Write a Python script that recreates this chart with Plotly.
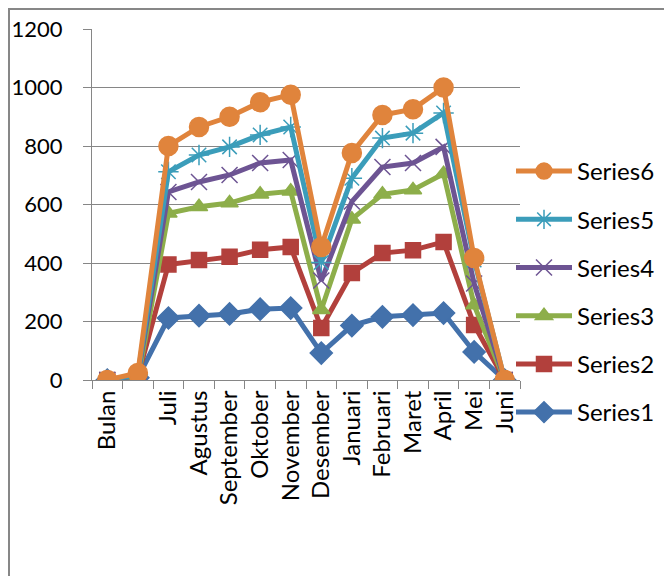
import plotly.graph_objects as go

categories = ["Bulan", " ", "Juli", "Agustus", "September", "Oktober", "November",
              "Desember", "Januari", "Februari", "Maret", "April", "Mei", "Juni"]

series1 = [0, 8, 212, 220, 226, 242, 246, 92, 186, 216, 222, 229, 96, 0]
series2 = [0, 12, 395, 410, 421, 445, 455, 178, 366, 434, 444, 472, 188, 0]
series3 = [0, 2, 570, 592, 605, 635, 645, 240, 550, 635, 650, 705, 256, 0]
series4 = [0, 15, 643, 677, 701, 742, 752, 340, 610, 728, 742, 797, 330, 0]
series5 = [0, 18, 712, 769, 797, 838, 865, 402, 690, 827, 844, 913, 410, 0]
series6 = [0, 24, 800, 865, 900, 950, 975, 455, 776, 906, 926, 1000, 417, 0]

names = ["Series1", "Series2", "Series3", "Series4", "Series5", "Series6"]
values = [series1, series2, series3, series4, series5, series6]
colors = ["#4371AB", "#B2403C", "#8DAE4A", "#6D5493", "#3B9DBA", "#E0843C"]
symbols = ["diamond", "square", "triangle-up", "x-thin-open", "asterisk-open", "circle"]
sizes = [17, 15, 15, 16, 17, 19]

FONT = "Lato, 'Open Sans', sans-serif"

fig = go.Figure()
for i, (n, v, c, s, sz) in enumerate(zip(names, values, colors, symbols, sizes)):
    fig.add_trace(go.Scatter(
        x=categories, y=v, name=n, mode="lines+markers",
        legendgroup=n, legendrank=len(names) - i,
        line=dict(color=c, width=5),
        marker=dict(symbol=s, size=sz, color=c, line=dict(color=c, width=1.5)),
    ))

# page is offset by the 8px body margin
OFF = 8
W, H = 672 - OFF, 576 - OFF
L, R, T, B = 92 - OFF, 672 - 520, 29 - OFF, 576 - 380
pw = W - L - R
ph = H - T - B

def px_x(p):
    return (p - OFF - L) / pw

def px_y(p):
    return (H - B - (p - OFF)) / ph

fig.update_layout(
    width=W, height=H,
    margin=dict(l=L, r=R, t=T, b=B, pad=0, autoexpand=False),
    paper_bgcolor="white", plot_bgcolor="white",
    font=dict(family=FONT, size=22, color="black"),
    showlegend=True,
    legend=dict(
        xref="container", yref="container",
        x=(511 - OFF) / W, y=1 - (149 - OFF) / H, xanchor="left", yanchor="top",
        traceorder="grouped", tracegroupgap=14, maxheight=420,
        font=dict(family=FONT, size=24, color="black"),
        bgcolor="rgba(0,0,0,0)", itemwidth=56,
    ),
    xaxis=dict(
        type="category", showgrid=False, showline=True, linecolor="#868686", linewidth=1,
        ticks="outside", tickson="boundaries", ticklen=8, tickcolor="#868686",
        tickangle=-90, tickfont=dict(family=FONT, size=24), automargin=False,
        zeroline=False, range=[-0.5, len(categories) - 0.5],
    ),
    yaxis=dict(
        range=[0, 1200], dtick=200, showgrid=True, gridcolor="#868686", gridwidth=1,
        showline=True, linecolor="#868686", linewidth=1, automargin=False,
        ticks="outside", ticklen=8, tickcolor="#868686", ticklabelstandoff=16,
        tickfont=dict(family=FONT, size=22), zeroline=False,
    ),
    shapes=[
        dict(type="line", xref="paper", yref="paper",
             x0=px_x(OFF), x1=px_x(672), y0=px_y(OFF + 1), y1=px_y(OFF + 1),
             line=dict(color="#878787", width=2)),
        dict(type="line", xref="paper", yref="paper",
             x0=px_x(OFF + 1), x1=px_x(OFF + 1), y0=px_y(OFF + 1), y1=px_y(576),
             line=dict(color="#878787", width=2)),
    ],
)

fig.write_html("out.html")
